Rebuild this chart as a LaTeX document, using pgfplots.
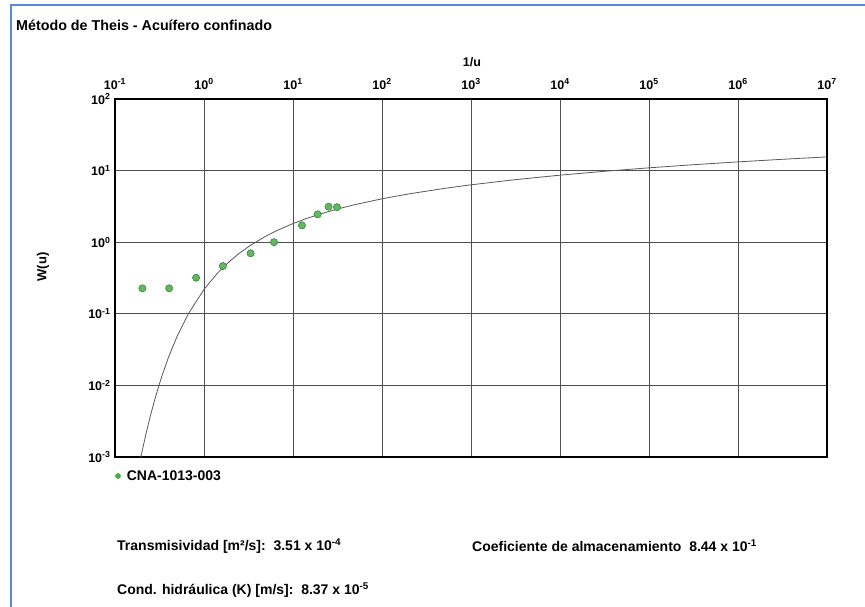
\documentclass[border=0pt]{standalone}
\usepackage{fontspec}
\setmainfont{Liberation Sans}
\usepackage{pgfplots}
\pgfplotsset{compat=1.18}
\definecolor{ptgreen}{RGB}{70,170,70}
\definecolor{frameblue}{RGB}{85,140,215}
\definecolor{gridc}{RGB}{80,80,80}
\begin{document}
\begin{tikzpicture}
\useasboundingbox (0,0) rectangle (865pt,-607pt);
\fill[white] (0,0) rectangle (865pt,-607pt);
\draw[frameblue, line width=2pt] (865pt,-5pt) -- (11pt,-5pt) -- (11pt,-607pt);
\node[anchor=west, inner sep=0pt, font=\fontsize{14.3}{16}\selectfont\bfseries] at (16pt,-25pt) {Método de Theis - Acuífero confinado};
\begin{axis}[
  at={(115pt,-457pt)}, anchor=south west,
  scale only axis, width=712pt, height=358pt,
  xmode=log, ymode=log,
  xmin=0.1, xmax=1e7, ymin=1e-3, ymax=100,
  xtick={0.1,1,10,100,1000,10000,100000,1000000,10000000},
  xticklabels={10\textsuperscript{-1},10\textsuperscript{0},10\textsuperscript{1},10\textsuperscript{2},10\textsuperscript{3},10\textsuperscript{4},10\textsuperscript{5},10\textsuperscript{6},10\textsuperscript{7}},
  ytick={0.001,0.01,0.1,1,10,100},
  yticklabels={10\textsuperscript{-3},10\textsuperscript{-2},10\textsuperscript{-1},10\textsuperscript{0},10\textsuperscript{1},10\textsuperscript{2}},
  minor tick num=0,
  minor tick length=0pt,
  xticklabel pos=upper,
  major tick length=0pt,
  tick label style={font=\fontsize{12.5}{14}\selectfont\bfseries},
  xticklabel style={yshift=6pt},
  yticklabel style={xshift=-1pt},
  grid=major,
  major grid style={gridc, line width=0.8pt},
  axis line style={black, line width=1.4pt},
  clip=true,
  legend style={at={(0,-0.053)}, anchor=west, draw=none, fill=none,
    font=\fontsize{14}{16}\selectfont\bfseries, inner sep=0pt,
    legend cell align=left,
    /tikz/every odd column/.append style={column sep=4pt}},
  legend image code/.code={\fill[ptgreen] (0pt,0pt) circle (2.6pt);},
]
\addplot[only marks, mark=*, mark size=3.6pt, mark options={fill=ptgreen!85!white, draw=ptgreen!80!black, line width=0.6pt}]
coordinates {
(0.203,0.227) (0.406,0.227) (0.815,0.319) (1.63,0.465) (3.34,0.70)
(6.12,1.0) (12.6,1.72) (18.9,2.45) (25.1,3.13) (31.2,3.08)
};
\addlegendentry{CNA-1013-003}
\addplot[gray!70!black, line width=0.8pt, forget plot]
coordinates {
(0.1923,0.000927) (0.2,0.001148) (0.2222,0.002073) (0.25,0.003779) (0.2857,0.00697)
(0.3333,0.01305) (0.4,0.02491) (0.5,0.0489) (0.6667,0.1) (1,0.2194)
(1.4286,0.3738) (2,0.5598) (2.5,0.7024) (3.333,0.9057) (5,1.2227)
(6.667,1.4645) (10,1.8229) (14.29,2.1508) (20,2.4679) (33.33,2.9591)
(50,3.3547) (100,4.0379) (200,4.7261) (500,5.6394) (1000,6.3315)
(3162,7.482) (10000,8.6332) (31623,9.785) (100000,10.9357) (316228,12.087)
(1000000,13.2383) (3162278,14.389) (10000000,15.5409)
};
\end{axis}
\node[font=\fontsize{12.5}{14}\selectfont\bfseries] at (472pt,-62pt) {1/u};
\node[rotate=90, font=\fontsize{13}{15}\selectfont\bfseries] at (43pt,-267pt) {W(u)};
\node[anchor=west, inner sep=0pt, font=\fontsize{14}{16}\selectfont\bfseries] at (117pt,-546pt) {Transmisividad [m²/s]:\ \ 3.51 x 10\textsuperscript{-4}};
\node[anchor=west, inner sep=0pt, font=\fontsize{14}{16}\selectfont\bfseries] at (472pt,-546pt) {Coeficiente de almacenamiento\ \ 8.44 x 10\textsuperscript{-1}};
\node[anchor=west, inner sep=0pt, font=\fontsize{14}{16}\selectfont\bfseries] at (117pt,-590pt) {Cond. hidráulica (K) [m/s]:\ \ 8.37 x 10\textsuperscript{-5}};
\end{tikzpicture}
\end{document}
